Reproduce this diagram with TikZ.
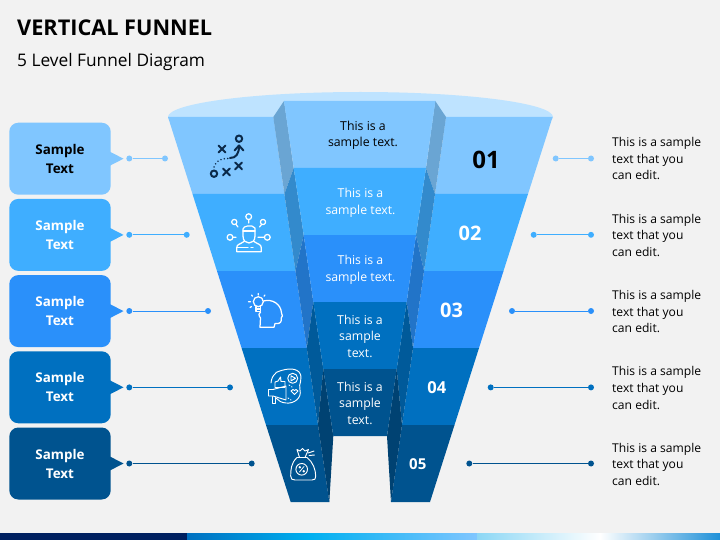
\documentclass[tikz,border=0pt]{standalone}
\usepackage{fontspec}
\setmainfont{Open Sans}
\usepackage{xcolor}
\usetikzlibrary{positioning,arrows.meta,calc,shapes.geometric}

\definecolor{pagegray}{HTML}{F2F2F2}
\definecolor{rimblue}{HTML}{BEE3FF}
\definecolor{levelA}{HTML}{80C6FF}
\definecolor{levelB}{HTML}{3FAEFF}
\definecolor{levelC}{HTML}{2A90FA}
\definecolor{levelD}{HTML}{0070C0}
\definecolor{levelE}{HTML}{00538F}
\definecolor{sideA}{HTML}{6AA5D3}
\definecolor{sideB}{HTML}{338ACC}
\definecolor{sideC}{HTML}{2274C8}
\definecolor{sideD}{HTML}{005A9A}
\definecolor{sideE}{HTML}{004272}
\definecolor{iconnavy}{HTML}{0B2A4A}

\tikzset{
    labelbox/.style={
        rectangle,
        rounded corners=9pt,
        minimum width=101.4pt,
        minimum height=72pt,
        inner sep=0pt,
        align=center,
        font=\fontsize{13.4}{19}\selectfont\bfseries
    },
    stagetext/.style={
        align=center,
        inner sep=0pt,
        text=white,
        font=\fontsize{12.3}{16.6}\selectfont
    },
    notetext/.style={
        anchor=west,
        align=left,
        inner sep=0pt,
        font=\fontsize{12.1}{16.6}\selectfont
    },
    levelnum/.style={
        inner sep=0pt,
        text=white,
        font=\bfseries
    },
    enddot/.style={
        circle,
        inner sep=0pt,
        minimum size=6pt
    },
    connline/.style={
        line width=1pt
    },
    iconline/.style={
        line width=1.25pt,
        line cap=round,
        line join=round,
        draw=white
    },
    fineline/.style={
        line width=0.95pt,
        line cap=round,
        line join=round,
        draw=white
    },
    navyline/.style={
        line width=2pt,
        line cap=round,
        line join=round,
        draw=iconnavy
    }
}

\begin{document}
\begin{tikzpicture}[x=1pt, y=-1pt, >=Stealth]

\useasboundingbox (0,0) rectangle (720,540);
\fill[pagegray] (0,0) rectangle (720,540);

% Title
\node[anchor=base west, inner sep=0pt, font=\fontsize{21.7}{26}\selectfont\bfseries] (title) at (17,36) {VERTICAL FUNNEL};
\node[anchor=base west, inner sep=0pt, font=\fontsize{17.3}{20}\selectfont] (subtitle) at (17,66.5) {5 Level Funnel Diagram};

% Bottom bar
\fill[white] (0,532.6) rectangle (720,533.4);
\fill[fill={rgb,255:red,0;green,32;blue,96}] (0,533.4) rectangle (187,540);
\shade[left color=levelD, right color={rgb,255:red,0;green,176;blue,240}] (187,533.4) rectangle (310,540);
\shade[left color={rgb,255:red,0;green,176;blue,240}, right color=levelA] (310,533.4) rectangle (477,540);
\shade[left color={rgb,255:red,140;green,215;blue,245}, right color=white] (477,533.4) rectangle (600,540);
\shade[left color=white, right color={rgb,255:red,30;green,144;blue,216}] (600,533.4) rectangle (720,540);

% Funnel rim
\fill[rimblue] (360.5,117) ellipse [x radius=192.5pt, y radius=25pt];

% Outer bands
\fill[levelA] (168,117) -- (273.3,117) -- (284.4,194) -- (192.5,194) -- cycle;
\fill[levelB] (192.5,194) -- (284.4,194) -- (295.5,271) -- (217,271) -- cycle;
\fill[levelC] (217,271) -- (295.5,271) -- (306.8,348) -- (241.6,348) -- cycle;
\fill[levelD] (241.6,348) -- (306.8,348) -- (318,425) -- (266,425) -- cycle;
\fill[levelE] (266,425) -- (318,425) -- (329.3,502) -- (290.7,502) -- cycle;

\fill[levelA] (552.6,117) -- (446,117) -- (435,194) -- (528,194) -- cycle;
\fill[levelB] (528,194) -- (435,194) -- (424,271) -- (503.5,271) -- cycle;
\fill[levelC] (503.5,271) -- (424,271) -- (413,348) -- (479,348) -- cycle;
\fill[levelD] (479,348) -- (413,348) -- (402,425) -- (454.5,425) -- cycle;
\fill[levelE] (454.5,425) -- (402,425) -- (391,502) -- (430,502) -- cycle;

% Side faces
\fill[sideA] (284,101) -- (273.3,117) -- (284.4,194) -- (293.7,168) -- cycle;
\fill[sideB] (293.7,168) -- (284.4,194) -- (295.5,271) -- (303.7,235) -- cycle;
\fill[sideC] (303.7,235) -- (295.5,271) -- (306.8,348) -- (313.3,302) -- cycle;
\fill[sideD] (313.3,302) -- (306.8,348) -- (318,425) -- (323.3,369) -- cycle;
\fill[sideE] (323.3,369) -- (318,425) -- (329.3,502) -- (333.3,436) -- cycle;

\fill[sideA] (435.3,101) -- (446,117) -- (435,194) -- (426,168) -- cycle;
\fill[sideB] (426,168) -- (435,194) -- (424,271) -- (416,235) -- cycle;
\fill[sideC] (416,235) -- (424,271) -- (413,348) -- (406.7,302) -- cycle;
\fill[sideD] (406.7,302) -- (413,348) -- (402,425) -- (396.7,369) -- cycle;
\fill[sideE] (396.7,369) -- (402,425) -- (391,502) -- (387,436) -- cycle;

% Centre panel
\fill[levelA] (284,101) -- (435.3,101) -- (426,168) -- (293.7,168) -- cycle;
\fill[levelB] (293.7,168) -- (426,168) -- (416,235) -- (303.7,235) -- cycle;
\fill[levelC] (303.7,235) -- (416,235) -- (406.7,302) -- (313.3,302) -- cycle;
\fill[levelD] (313.3,302) -- (406.7,302) -- (396.7,369) -- (323.3,369) -- cycle;
\fill[levelE] (323.3,369) -- (396.7,369) -- (387,436) -- (333.3,436) -- cycle;

% Centre texts
\node[stagetext, text=black] (stageA) at (363,135.5) {This is a\\sample text.};
\node[stagetext] (stageB) at (360.5,203) {This is a\\sample text.};
\node[stagetext] (stageC) at (360.5,269.8) {This is a\\sample text.};
\node[stagetext] (stageD) at (360,336.3) {This is a\\sample\\text.};
\node[stagetext] (stageE) at (360,403.3) {This is a\\sample\\text.};

% Level numbers
\node[levelnum, text=black, font=\fontsize{24}{28}\selectfont\bfseries] (numA) at (486,159.5) {01};
\node[levelnum, font=\fontsize{20}{24}\selectfont\bfseries] (numB) at (470,233.5) {02};
\node[levelnum, font=\fontsize{20}{24}\selectfont\bfseries] (numC) at (451.5,310.5) {03};
\node[levelnum, font=\fontsize{16.5}{20}\selectfont\bfseries] (numD) at (436.8,387.5) {04};
\node[levelnum, font=\fontsize{15}{18}\selectfont\bfseries] (numE) at (417.8,464) {05};

% Left label boxes
\node[labelbox, fill=levelA, text=black] (boxA) at (60,158.7) {Sample\\Text};
\node[labelbox, fill=levelB, text=white, below=3.8pt of boxA] (boxB) {Sample\\Text};
\node[labelbox, fill=levelC, text=white, below=3.8pt of boxB] (boxC) {Sample\\Text};
\node[labelbox, fill=levelD, text=white, below=3.8pt of boxC] (boxD) {Sample\\Text};
\node[labelbox, fill=levelE, text=white, below=3.8pt of boxD] (boxE) {Sample\\Text};

% Box pointers
\fill[levelA] ($(boxA.east)+(-1,-7)$) -- ($(boxA.east)+(12.6,0)$) -- ($(boxA.east)+(-1,7)$) -- cycle;
\fill[levelB] ($(boxB.east)+(-1,-7)$) -- ($(boxB.east)+(12.6,0)$) -- ($(boxB.east)+(-1,7)$) -- cycle;
\fill[levelC] ($(boxC.east)+(-1,-7)$) -- ($(boxC.east)+(12.6,0)$) -- ($(boxC.east)+(-1,7)$) -- cycle;
\fill[levelD] ($(boxD.east)+(-1,-7)$) -- ($(boxD.east)+(12.6,0)$) -- ($(boxD.east)+(-1,7)$) -- cycle;
\fill[levelE] ($(boxE.east)+(-1,-7)$) -- ($(boxE.east)+(12.6,0)$) -- ($(boxE.east)+(-1,7)$) -- cycle;

% Left connectors
\node[enddot, fill=levelA] (leftAa) at (129.3,158.5) {};
\node[enddot, fill=levelA] (leftAb) at (165,158.5) {};
\node[enddot, fill=levelB] (leftBa) at (129.3,234.8) {};
\node[enddot, fill=levelB] (leftBb) at (186.7,234.8) {};
\node[enddot, fill=levelC] (leftCa) at (129.3,311) {};
\node[enddot, fill=levelC] (leftCb) at (208,311) {};
\node[enddot, fill=levelD] (leftDa) at (129.3,387.4) {};
\node[enddot, fill=levelD] (leftDb) at (230,387.4) {};
\node[enddot, fill=levelE] (leftEa) at (129.3,463.5) {};
\node[enddot, fill=levelE] (leftEb) at (251.7,463.5) {};
\draw[connline, levelA] (leftAa) -- (leftAb);
\draw[connline, levelB] (leftBa) -- (leftBb);
\draw[connline, levelC] (leftCa) -- (leftCb);
\draw[connline, levelD] (leftDa) -- (leftDb);
\draw[connline, levelE] (leftEa) -- (leftEb);

% Right connectors
\node[enddot, fill=levelA] (rightAa) at (555.7,158.5) {};
\node[enddot, fill=levelA] (rightAb) at (591,158.5) {};
\node[enddot, fill=levelB] (rightBa) at (533.7,234.8) {};
\node[enddot, fill=levelB] (rightBb) at (591,234.8) {};
\node[enddot, fill=levelC] (rightCa) at (512,311) {};
\node[enddot, fill=levelC] (rightCb) at (591,311) {};
\node[enddot, fill=levelD] (rightDa) at (490.7,387.4) {};
\node[enddot, fill=levelD] (rightDb) at (591,387.4) {};
\node[enddot, fill=levelE] (rightEa) at (469.3,463.5) {};
\node[enddot, fill=levelE] (rightEb) at (591,463.5) {};
\draw[connline, levelA] (rightAa) -- (rightAb);
\draw[connline, levelB] (rightBa) -- (rightBb);
\draw[connline, levelC] (rightCa) -- (rightCb);
\draw[connline, levelD] (rightDa) -- (rightDb);
\draw[connline, levelE] (rightEa) -- (rightEb);

% Right notes
\node[notetext] (noteA) at (612,158.8) {This is a sample\\text that you\\can edit.};
\node[notetext] (noteB) at (612,235.3) {This is a sample\\text that you\\can edit.};
\node[notetext] (noteC) at (612,311.5) {This is a sample\\text that you\\can edit.};
\node[notetext] (noteD) at (612,387.9) {This is a sample\\text that you\\can edit.};
\node[notetext] (noteE) at (612,464.3) {This is a sample\\text that you\\can edit.};

% Icon 1: play plan
\draw[navyline] (239,138.7) circle [radius=3.2pt];
\draw[navyline] (214,173.7) circle [radius=3.2pt];
\draw[navyline] (218.5,145.5) -- (225.5,152.5) (225.5,145.5) -- (218.5,152.5);
\draw[navyline] (235.2,162.5) -- (242,169.3) (242,162.5) -- (235.2,169.3);
\draw[navyline] (223,168.5) -- (229.8,175.3) (229.8,168.5) -- (223,175.3);
\draw[navyline] (230,158) .. controls (236,158) and (239,154) .. (239,146);
\draw[navyline] (234.5,150.5) -- (239,145.5) -- (243.5,150.5);
\draw[navyline, line width=1.6pt, dash pattern=on 0.1pt off 3.4pt] (214,167) .. controls (216,161) and (220,158.5) .. (228,158.5);

% Icon 2: person with ideas
\draw[iconline] (234.3,222) circle [radius=2.6pt];
\draw[iconline] (248.7,216.7) circle [radius=2.9pt];
\draw[iconline] (263,222) circle [radius=2.6pt];
\draw[iconline] (230,237.3) circle [radius=2.9pt];
\draw[iconline] (267.3,237.3) circle [radius=2.9pt];
\draw[iconline] (236,224.5) -- (238,227) (248.7,219.5) -- (248.7,223) (261.5,224.5) -- (259.5,227) (233,237.3) -- (236,237.3) (258,237.3) -- (264.5,237.3);
\draw[iconline] (243,236) -- (243,229) .. controls (243,226) and (252,224) .. (255,228) -- (255,236) .. controls (255,241) and (252,243) .. (249,243) .. controls (246,243) and (243,241) .. (243,236);
\draw[iconline] (243,231) -- (255,231);
\draw[iconline] (244,241.5) .. controls (240,244.5) and (236.7,244) .. (236.7,248) -- (236.7,251.7) -- (261.3,251.7) -- (261.3,248) .. controls (261.3,244) and (258,244.5) .. (254,241.5);
\draw[iconline] (236.7,247.5) -- (248,247.5) (251,247.5) -- (253,247.5);

% Icon 3: head with bulb
\draw[iconline] (258.3,301.7) circle [radius=5pt];
\draw[iconline] (256,306.5) -- (256,311.5) -- (260.5,311.5) -- (260.5,306.5) (256,309) -- (260.5,309);
\draw[iconline] (258.3,293.5) -- (258.3,295) (251.5,295) -- (252.5,296.2) (265,295) -- (264,296.2) (248.5,301.7) -- (250.5,301.7) (250,307.5) -- (251.5,306.5);
\draw[iconline] (260,327) -- (260.5,318) .. controls (258,315) and (259,313) .. (260.5,312);
\draw[iconline] (263.5,301) .. controls (272,298.5) and (281,304) .. (281.5,313) .. controls (282,315) and (283.5,317) .. (281.2,318) .. controls (281.5,322) and (281,324) .. (275,323.5) -- (274,327.3) -- (260,327.3);

% Icon 4: megaphone with likes
\draw[fineline] (276,372.5) .. controls (284,369) and (294,367) .. (299,372) .. controls (304,378) and (298,384) .. (300,390) .. controls (302,398) and (294,404) .. (286,403) .. controls (281,402.5) and (279,401) .. (276.5,398.5);
\draw[fineline] (271,383) .. controls (271.5,378) and (273,375.5) .. (276,373);
\draw[fineline] (292.7,378.3) circle [radius=5pt];
\draw[fineline] (291,375.8) -- (295.5,378.3) -- (291,380.8) -- cycle;
\draw[fineline] (275,382) -- (275,387.5) -- (285,387.5) -- (285,381.5) -- (281,381.5) -- (280.5,377) -- (278,381) -- (275,382);
\draw[fineline] (268.5,389.5) -- (268.5,396) -- (273,396) -- (286,400) -- (286,386) -- (273,389.5) -- cycle;
\draw[fineline] (272,396.5) -- (272,403) -- (275.5,403) -- (275.5,397.5);
\draw[fineline] (294.5,394.5) -- (291,391) -- (293,389.5) -- (294.5,390.5) -- (296,389.5) -- (298,391) -- cycle;
\draw[fineline, dash pattern=on 1pt off 2pt] (289,385) -- (292,387) (288,398) -- (291,400);

% Icon 5: money bag
\draw[fineline] (297,457.5) .. controls (291,463) and (290.7,470) .. (290.7,476) .. controls (290.7,479) and (292,480) .. (295,480) -- (312,480) .. controls (315,480) and (315.7,479) .. (315.7,476) .. controls (315.7,470) and (313,462) .. (307,457.5) -- cycle;
\draw[fineline] (299.5,457.5) -- (297,449.5) -- (300,451) -- (302.5,448.5) -- (305,451) -- (308.5,449.5) -- (305,457.5);
\draw[fineline] (308,453) -- (314,451) (309,455.5) -- (314.5,455);
\draw[fineline] (301.7,469.3) circle [radius=5.8pt];
\draw[fineline, line width=0.75pt] (304,466.5) -- (299.5,472);
\draw[fineline, line width=0.75pt] (299.8,467.3) circle [radius=0.9pt];
\draw[fineline, line width=0.75pt] (303.7,471.3) circle [radius=0.9pt];

\end{tikzpicture}
\end{document}
